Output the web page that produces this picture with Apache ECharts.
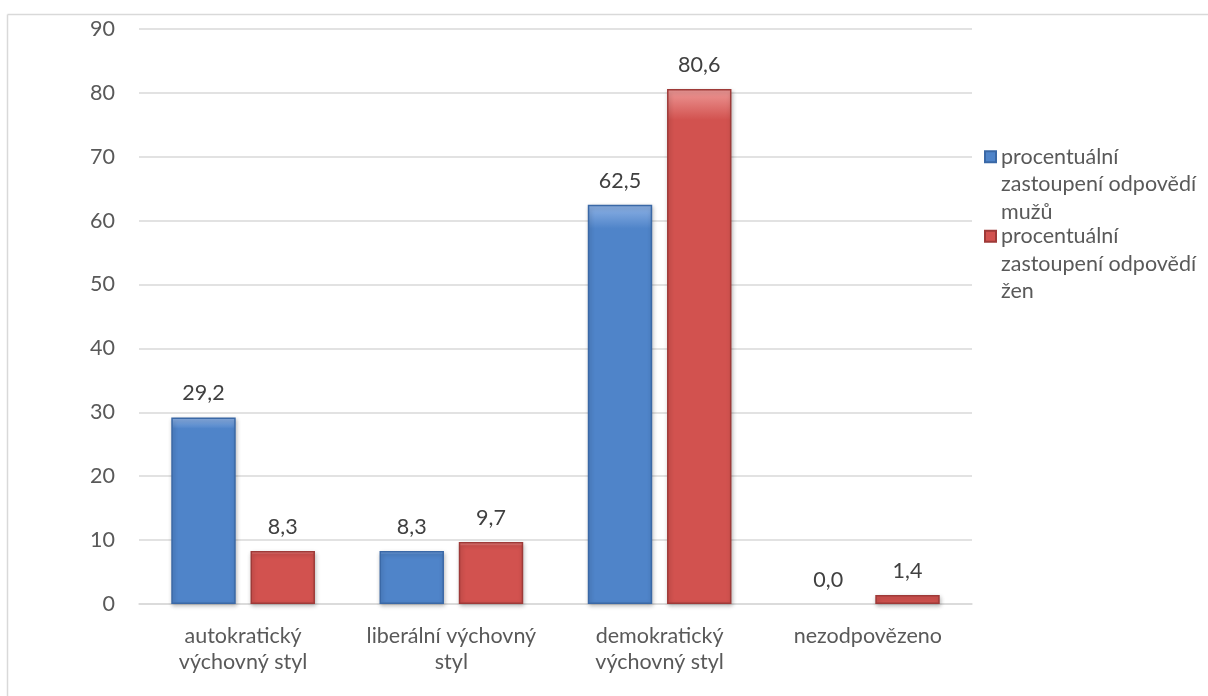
<!DOCTYPE html>
<html>
<head>
<meta charset="utf-8">
<script src="https://cdn.jsdelivr.net/npm/echarts@6/dist/echarts.min.js"></script>
<style>
  html, body { margin: 0; padding: 0; background: #fff; }
  #chart { width: 1208px; height: 696px; }
</style>
</head>
<body>
<div id="chart"></div>
<script>
// Categories (parenting styles) and answer shares in percent
const categories = [
  'autokratický\nvýchovný styl',
  'liberální výchovný\nstyl',
  'demokratický\nvýchovný styl',
  'nezodpovězeno'
];
const menName = 'procentuální zastoupení odpovědí mužů';
const womenName = 'procentuální zastoupení odpovědí žen';
const menValues = [29.2, 8.3, 62.5, 0.0];
const womenValues = [8.3, 9.7, 80.6, 1.4];
const yTicks = { min: 0, max: 90, interval: 10 };

const FONT = 'Lato, "Open Sans", sans-serif';
const FS = 21.5;

function barStyle(light, mid, dark) {
  return {
    color: new echarts.graphic.LinearGradient(0, 0, 0, 1, [
      { offset: 0, color: light },
      { offset: 0.06, color: mid },
      { offset: 1, color: mid }
    ]),
    borderColor: dark,
    borderWidth: 1.5,
    shadowColor: 'rgba(0,0,0,0.25)',
    shadowBlur: 4,
    shadowOffsetX: 1,
    shadowOffsetY: 2
  };
}

// Zero-height bars get no outline or shadow so nothing shows on the axis
function toBarData(values) {
  return values.map(v => v === 0
    ? { value: v, itemStyle: { borderWidth: 0, shadowBlur: 0, shadowOffsetX: 0, shadowOffsetY: 0, shadowColor: 'transparent' } }
    : v);
}

const labelStyle = {
  show: true,
  position: 'top',
  distance: 13,
  color: '#404040',
  fontFamily: FONT,
  fontSize: FS,
  formatter: p => p.value.toFixed(1).replace('.', ',')
};

// Two blank leading lines keep the legend marker beside the first text line
const legendText = {};
legendText[menName] = '\n\nprocentuální\nzastoupení odpovědí\nmužů';
legendText[womenName] = '\n\nprocentuální\nzastoupení odpovědí\nžen';

const chart = echarts.init(document.getElementById('chart'), null, { renderer: 'canvas' });
chart.setOption({
  backgroundColor: '#ffffff',
  animation: false,
  graphic: [
    { type: 'line', shape: { x1: 7.5, y1: 14.5, x2: 1208, y2: 14.5 }, style: { stroke: '#d9d9d9', lineWidth: 1.5 } },
    { type: 'line', shape: { x1: 7.5, y1: 14.5, x2: 7.5, y2: 696 }, style: { stroke: '#d9d9d9', lineWidth: 1.5 } }
  ],
  grid: { left: 139, right: 236, top: 29, bottom: 92, containLabel: false },
  legend: {
    orient: 'vertical',
    left: 984,
    top: 88,
    padding: 0,
    itemWidth: 11,
    itemHeight: 11,
    itemGap: -58,
    icon: 'rect',
    data: [menName, womenName],
    formatter: n => legendText[n],
    textStyle: {
      color: '#595959',
      fontFamily: FONT,
      fontSize: FS,
      lineHeight: 27.5
    }
  },
  xAxis: {
    type: 'category',
    data: categories,
    axisLine: { show: true, lineStyle: { color: '#d9d9d9', width: 1.5 } },
    axisTick: { show: false },
    axisLabel: {
      color: '#595959',
      fontFamily: FONT,
      fontSize: FS,
      lineHeight: 26,
      margin: 19,
      interval: 0
    }
  },
  yAxis: {
    type: 'value',
    min: yTicks.min,
    max: yTicks.max,
    interval: yTicks.interval,
    axisLine: { show: false },
    axisTick: { show: false },
    splitLine: { lineStyle: { color: '#d9d9d9', width: 1.5 } },
    axisLabel: {
      color: '#595959',
      fontFamily: FONT,
      fontSize: FS,
      margin: 24
    }
  },
  series: [
    {
      name: menName,
      type: 'bar',
      data: toBarData(menValues),
      barGap: '23%',
      barCategoryGap: '31%',
      itemStyle: barStyle('#8fb3e6', '#4f84c9', '#3a68a6'),
      label: labelStyle
    },
    {
      name: womenName,
      type: 'bar',
      data: toBarData(womenValues),
      itemStyle: barStyle('#ee9a98', '#d2524f', '#9e3a38'),
      label: labelStyle
    }
  ]
});
</script>
</body>
</html>
